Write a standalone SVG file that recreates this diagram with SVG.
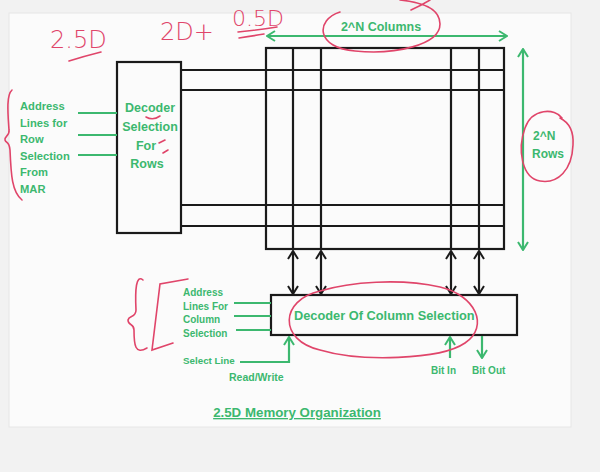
<svg xmlns="http://www.w3.org/2000/svg" width="600" height="472" viewBox="0 0 600 472">
<style>
.g{fill:#3cb86f;font-family:"Liberation Sans",Arial,sans-serif;font-weight:bold}
.gl{stroke:#3cb86f;stroke-width:2.2;fill:none}
.bl{stroke:#1a1a1a;stroke-width:2.2;fill:none}
.box{stroke:#1a1a1a;stroke-width:2.2;fill:none}
.red{stroke:#e0456a;stroke-width:1.6;fill:none;stroke-linecap:round}
.rt{fill:#e0456a;font-family:"DejaVu Sans",sans-serif;font-weight:300}
</style>
<defs>
<marker id="ga" viewBox="0 0 10 12" refX="9" refY="6" markerWidth="10" markerHeight="12" markerUnits="userSpaceOnUse" orient="auto-start-reverse"><path d="M1,1 L9,6 L1,11" fill="none" stroke="#3cb86f" stroke-width="2"/></marker>
<marker id="ba" viewBox="0 0 10 12" refX="9" refY="6" markerWidth="10" markerHeight="12" markerUnits="userSpaceOnUse" orient="auto-start-reverse"><path d="M1,1 L9,6 L1,11" fill="none" stroke="#1a1a1a" stroke-width="2"/></marker>
</defs>
<rect width="600" height="472" fill="#f2f2f2"/>
<rect x="9" y="13" width="562" height="414" fill="#fbfbfb" stroke="#e6e6e6"/>

<g id="memory-grid">
<rect class="box" x="266" y="48" width="238" height="201"/>
<line class="bl" x1="293" y1="48" x2="293" y2="249"/>
<line class="bl" x1="321" y1="48" x2="321" y2="249"/>
<line class="bl" x1="451" y1="48" x2="451" y2="249"/>
<line class="bl" x1="479" y1="48" x2="479" y2="249"/>
<line class="bl" x1="181" y1="70" x2="504" y2="70"/>
<line class="bl" x1="181" y1="90" x2="504" y2="90"/>
<line class="bl" x1="181" y1="205" x2="504" y2="205"/>
<line class="bl" x1="181" y1="226" x2="504" y2="226"/>
</g>

<g id="row-decoder">
<rect class="box" x="117" y="62" width="64" height="171" fill="#fbfbfb"/>
<text class="g" font-size="12.5" text-anchor="middle"><tspan x="150" y="112">Decoder</tspan><tspan x="150" y="131">Selection</tspan><tspan x="146" y="150">For</tspan><tspan x="147" y="168">Rows</tspan></text>
</g>

<g id="row-address-label">
<text class="g" font-size="11.2"><tspan x="20" y="110">Address</tspan><tspan x="20" y="126.5">Lines for</tspan><tspan x="20" y="143">Row</tspan><tspan x="20" y="159.5">Selection</tspan><tspan x="20" y="176">From</tspan><tspan x="20" y="192.5">MAR</tspan></text>
</g>

<g id="column-decoder">
<rect class="box" x="271" y="295" width="246" height="40"/>
<text class="g" font-size="12.8" x="294" y="320">Decoder Of Column Selection</text>
</g>

<g id="column-address-label">
<text class="g" font-size="10"><tspan x="183" y="296">Address</tspan><tspan x="183" y="309.5">Lines For</tspan><tspan x="183" y="323">Column</tspan><tspan x="183" y="336.5">Selection</tspan></text>
</g>

<g id="labels">
<text class="g" font-size="12.5" x="381" y="31" text-anchor="middle">2^N Columns</text>
<text class="g" font-size="12"><tspan x="533" y="140">2^N</tspan><tspan x="532" y="158">Rows</tspan></text>
<text class="g" font-size="9.8" x="183" y="364">Select Line</text>
<text class="g" font-size="10.5" x="229" y="381">Read/Write</text>
<text class="g" font-size="10" x="431" y="374">Bit In</text>
<text class="g" font-size="10" x="472" y="374">Bit Out</text>
<text class="g" font-size="13.3" x="297" y="417" text-anchor="middle" text-decoration="underline">2.5D Memory Organization</text>
</g>

<g id="connectors">
<line class="gl" x1="78" y1="113" x2="117" y2="113"/>
<line class="gl" x1="78" y1="135" x2="117" y2="135"/>
<line class="gl" x1="78" y1="155" x2="117" y2="155"/>
<line class="gl" x1="234" y1="303" x2="271" y2="303"/>
<line class="gl" x1="234" y1="316" x2="271" y2="316"/>
<line class="gl" x1="236" y1="330" x2="271" y2="330"/>
<line class="gl" x1="267" y1="36" x2="507" y2="36" marker-start="url(#ga)" marker-end="url(#ga)"/>
<line class="gl" x1="523" y1="49" x2="523" y2="250" marker-start="url(#ga)" marker-end="url(#ga)"/>
<polyline class="gl" points="240,362 289,362 289,337" marker-end="url(#ga)"/>
<line class="gl" x1="450" y1="358" x2="450" y2="337" marker-end="url(#ga)"/>
<line class="gl" x1="482" y1="336" x2="482" y2="358" marker-end="url(#ga)"/>
<line class="bl" x1="293" y1="251" x2="293" y2="294" marker-start="url(#ba)" marker-end="url(#ba)"/>
<line class="bl" x1="321" y1="251" x2="321" y2="294" marker-start="url(#ba)" marker-end="url(#ba)"/>
<line class="bl" x1="451" y1="251" x2="451" y2="294" marker-start="url(#ba)" marker-end="url(#ba)"/>
<line class="bl" x1="479" y1="251" x2="479" y2="294" marker-start="url(#ba)" marker-end="url(#ba)"/>
</g>

<g id="annotations">
<text class="rt" font-size="24" x="50" y="48">2.5D</text>
<path class="red" d="M69,61 Q85,56 101,52"/>
<text class="rt" font-size="24" x="160" y="40">2D+</text>
<text class="rt" font-size="22" x="232" y="26">0.5D</text>
<path class="red" d="M238,32 Q258,30 277,27 M239,38 Q252,36 264,34"/>
<path class="red" d="M146,117 Q153,121 160,116 M159,143 L165,140 M163,153 L168,150"/>
<path class="red" d="M340,12 C315,20 316,48 355,51 C395,55 440,45 440,24 C440,8 420,2 400,0 M411,10 C420,6 425,3 430,0"/>
<path class="red" d="M562,118 C555,108 532,108 525,128 C517,150 522,178 540,181 C558,184 572,170 573,145 C574,130 568,122 560,118"/>
<path class="red" d="M320,291 C280,300 278,340 320,350 C360,362 440,360 465,343 C490,326 475,295 440,287 C400,278 350,282 320,291"/>
<path class="red" d="M12,90 C6,95 8,115 9,130 C10,136 4,136 5,140 C6,144 9,140 10,150 C11,175 12,192 22,200"/>
<path class="red" d="M143,280 C136,274 135,290 136,310 C136,318 129,315 128,320 C128,326 134,323 134,330 C134,345 135,355 147,348"/>
<path class="red" d="M188,279 L160,284 L152,350 L173,343"/>
</g>
</svg>
